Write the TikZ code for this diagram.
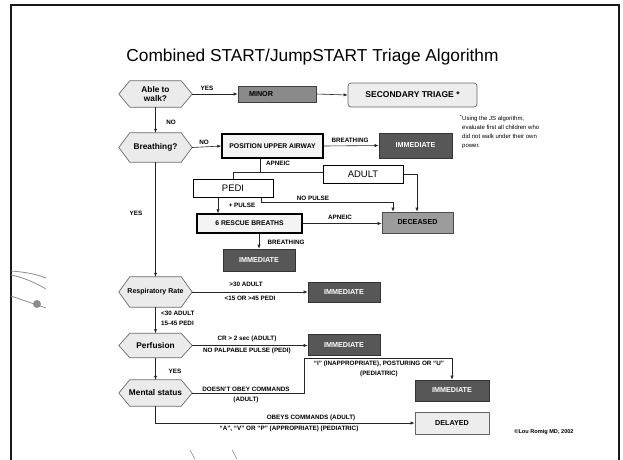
\documentclass[tikz,border=0pt]{standalone}
\usepackage{fontspec}
\setmainfont{Liberation Sans}
\usetikzlibrary{arrows.meta,backgrounds}
\definecolor{hexfill}{HTML}{EBEBEB}
\definecolor{hexdraw}{HTML}{6A6A6A}
\definecolor{immfill}{HTML}{575757}
\definecolor{immdraw}{HTML}{333333}
\definecolor{minorfill}{HTML}{8A8A8A}
\definecolor{decfill}{HTML}{9C9C9C}
\definecolor{lightfill}{HTML}{EDEDED}
\definecolor{strayc}{HTML}{8C8C8C}
\newcommand\bxfont{\fontsize{7.2}{8}\selectfont\bfseries}
\newcommand\lbfont{\fontsize{6.3}{7.4}\selectfont\bfseries}
\newcommand\hxfont{\fontsize{8.3}{9}\selectfont\bfseries}
\newcommand\bgfont{\fontsize{9.5}{10}\selectfont}
\newcommand\fnfont{\fontsize{6}{9}\selectfont}
\tikzset{
  base/.style={rectangle, inner sep=0pt, align=center},
  immbox/.style={base, fill=immfill, draw=immdraw, line width=0.6pt, text=white, font=\bxfont},
  minorbox/.style={base, fill=minorfill, draw=black!75, line width=0.6pt, font=\bxfont},
  decbox/.style={base, fill=decfill, draw=black!70, line width=0.6pt, font=\bxfont},
  lightbox/.style={base, fill=lightfill, draw=black!60, line width=0.7pt, font=\bxfont},
  thickbox/.style={base, fill=lightfill!60!white, draw=black, line width=1.2pt, font=\bxfont},
  plainbox/.style={base, fill=white, draw=black, line width=1.0pt, font=\bgfont},
  hexn/.style={base, minimum width=73pt, font=\hxfont},
  hexdraw/.style={fill=hexfill, draw=hexdraw, line width=0.7pt},
  conn/.style={line width=0.6pt, draw=black!85},
  arr/.style={conn, -{Latex[length=4pt,width=3.2pt]}},
  lbl/.style={inner sep=0pt, font=\lbfont, align=center},
  stray/.style={draw=strayc, line width=0.8pt}
}
\begin{document}
\begin{tikzpicture}[x=1pt,y=-1pt]
\useasboundingbox (0,0) rectangle (623,459);
% frame
\draw[line width=2pt, black!90] (11,470) -- (11,5) -- (619,5) -- (619,470);
% title
\node[inner sep=0pt, font=\fontsize{17.3}{18}\selectfont] (title) at (312.5,57) {Combined START/JumpSTART Triage Algorithm};

% decision hexagons
\node[hexn, minimum height=26pt] (walk) at (155.5,94) {Able to\\walk?};
\node[hexn, minimum height=29pt] (breath) at (155.5,147.5) {Breathing?};
\node[hexn, minimum height=30pt, font=\fontsize{7}{8}\selectfont\bfseries] (resp) at (155.5,292) {Respiratory Rate};
\node[hexn, minimum height=24pt] (perf) at (155.5,345.5) {Perfusion};
\node[hexn, minimum height=26pt] (mental) at (155.5,393) {Mental status};
\begin{scope}[on background layer]
\foreach \n in {walk,breath,resp,perf,mental}
  \draw[hexdraw] (\n.west) -- ([xshift=11pt]\n.north west) -- ([xshift=-11pt]\n.north east)
    -- (\n.east) -- ([xshift=-11pt]\n.south east) -- ([xshift=11pt]\n.south west) -- cycle;
\end{scope}

% boxes
\node[minorbox, minimum width=78pt, minimum height=16pt, text width=70pt, align=left] (minor) at (277,94) {\hspace*{7pt}MINOR};
\node[lightbox, rounded corners=3pt, minimum width=129pt, minimum height=24pt, font=\fontsize{8.5}{9}\selectfont\bfseries] (second) at (412.5,95) {SECONDARY TRIAGE *};
\node[thickbox, minimum width=101pt, minimum height=24pt, font=\fontsize{6.8}{8}\selectfont\bfseries] (pua) at (272.5,146) {POSITION UPPER AIRWAY};
\node[immbox, minimum width=73pt, minimum height=25pt] (imm1) at (415.5,145.5) {IMMEDIATE};
\node[plainbox, minimum width=80pt, minimum height=18pt] (adult) at (363,174) {ADULT};
\node[plainbox, minimum width=80pt, minimum height=18pt] (pedi) at (233,188) {PEDI};
\node[decbox, minimum width=71pt, minimum height=21pt] (dec) at (417.5,222.5) {DECEASED};
\node[thickbox, minimum width=105pt, minimum height=19pt, font=\fontsize{6.8}{8}\selectfont\bfseries] (rescue) at (249.5,223.5) {6 RESCUE BREATHS};
\node[immbox, minimum width=72pt, minimum height=22pt] (imm2) at (259,260) {IMMEDIATE};
\node[immbox, minimum width=72pt, minimum height=20pt] (imm3) at (344,292) {IMMEDIATE};
\node[immbox, minimum width=72pt, minimum height=21pt] (imm4) at (344,345) {IMMEDIATE};
\node[immbox, minimum width=74pt, minimum height=21pt] (imm5) at (452,390.5) {IMMEDIATE};
\node[lightbox, minimum width=74pt, minimum height=22pt] (delayed) at (452,423) {DELAYED};

% footnote and credit
\node[anchor=north west, inner sep=0pt, align=left, font=\fnfont] (foot) at (462,114.5)
  {\llap{\textsuperscript{*}}Using the JS algorithm,\\evaluate first all children who\\did not walk under their own\\power.};
\node[inner sep=0pt, font=\fontsize{5.6}{6}\selectfont\bfseries] (credit) at (544,432) {©Lou Romig MD, 2002};

% helper coordinates
\coordinate (apn) at (260,172);
\coordinate (pp) at (218,0);
\coordinate (np) at (261,202);
\coordinate (dx) at (393,0);
\coordinate (m1) at (304,358.5);
\coordinate (ax) at (417,0);

% connectors
\draw[arr] (walk.east) -- (minor.west);
\draw[arr] (minor.east) -- (second.west);
\draw[arr] (walk.south) -- (breath.north);
\draw[arr] (breath.east) -- (pua.west);
\draw[arr] (pua.east) -- (imm1.west);
\draw[conn] (pua.south -| apn) -- (apn) -| (pedi.north);
\draw[conn] (apn) -- (apn -| adult.west);
\draw[arr] (adult.east) -| (dec.north -| ax);
\draw[arr] (pedi.south -| np) -- (np) -- (np -| dx) -- (dec.north -| dx);
\draw[arr] (pedi.south -| pp) -- (rescue.north -| pp);
\draw[arr] (rescue.east) -- (dec.west |- rescue.east);
\draw[arr] (rescue.south -| imm2.north) -- (imm2.north);
\draw[arr] (breath.south) -- (resp.north);
\draw[arr] (resp.east) -- (imm3.west);
\draw[arr] (resp.south) -- (perf.north);
\draw[arr] (perf.east) -- (imm4.west |- perf.east);
\draw[arr] (perf.south) -- (mental.north);
\draw[arr] (mental.east) -| (m1) -| (imm5.north);
\draw[arr] (mental.south) |- (delayed.west);

% labels
\node[lbl] (lyes1) at (207,88) {YES};
\node[lbl] (lno1) at (171,122) {NO};
\node[lbl] (lno2) at (204,142.5) {NO};
\node[lbl] (lbr1) at (350,140) {BREATHING};
\node[lbl] (lap1) at (278,163) {APNEIC};
\node[lbl] (lnop) at (313,198) {NO PULSE};
\node[lbl] (lpp) at (242,205.5) {+ PULSE};
\node[lbl] (lap2) at (340,217) {APNEIC};
\node[lbl] (lbr2) at (286,242) {BREATHING};
\node[lbl] (lyes2) at (136,213) {YES};
\node[lbl] (lr1) at (246,284) {>30 ADULT};
\node[lbl] (lr2) at (250,298.5) {<15 OR >45 PEDI};
\node[lbl, anchor=west] (lr3) at (161,313) {<30 ADULT};
\node[lbl, anchor=west] (lr4) at (161,323) {15-45 PEDI};
\node[lbl] (lp1) at (247,339) {CR > 2 sec (ADULT)};
\node[lbl] (lp2) at (247,351) {NO PALPABLE PULSE (PEDI)};
\node[lbl] (lyes3) at (175,371) {YES};
\node[lbl] (lm1) at (246,389) {DOESN'T OBEY COMMANDS};
\node[lbl] (lm2) at (246,400) {(ADULT)};
\node[lbl] (lm3) at (379,364) {“I” (INAPPROPRIATE), POSTURING OR “U”};
\node[lbl] (lm4) at (379,374) {(PEDIATRIC)};
\node[lbl] (lo1) at (311,418) {OBEYS COMMANDS (ADULT)};
\node[lbl] (lo2) at (289,428.5) {“A”, “V” OR “P” (APPROPRIATE) (PEDIATRIC)};

% stray marks at left and bottom
\draw[stray] (11,271) .. controls (25,272) and (36,274) .. (46,278);
\draw[stray] (11,275) .. controls (25,278) and (36,283) .. (46,289);
\draw[stray] (11,296) -- (46,308);
\fill[strayc] (37,304) circle (4pt);
\draw[stray, line width=0.6pt] (190,450) -- (195,459);
\draw[stray, line width=0.6pt] (232,450) -- (237,459);
\end{tikzpicture}
\end{document}
